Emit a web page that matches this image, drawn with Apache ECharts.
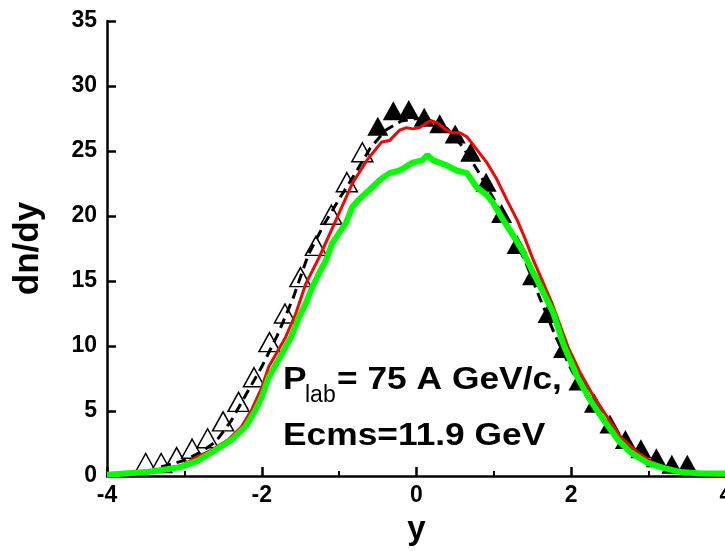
<!DOCTYPE html>
<html>
<head>
<meta charset="utf-8">
<script src="https://cdn.jsdelivr.net/npm/echarts@6/dist/echarts.min.js"></script>
<style>
html,body{margin:0;padding:0;background:#fff;}
#chart{width:725px;height:551px;}
</style>
</head>
<body>
<div id="chart"></div>
<script>
// Open triangles (reflected data)
var openX = [-3.5,-3.3,-3.1,-2.9,-2.7,-2.5,-2.3,-2.1,-1.9,-1.7,-1.5,-1.3,-1.1,-0.9,-0.7];
var openY = [1.0,1.0,1.45,2.1,2.9,4.2,5.7,7.6,10.3,12.5,15.3,17.7,20.1,22.6,24.9];
// Filled triangles (measured data)
var filledX = [-0.5,-0.3,-0.1,0.1,0.3,0.5,0.7,0.9,1.1,1.3,1.5,1.7,1.9,2.1,2.3,2.5,2.7,2.9,3.1,3.3,3.5];
var filledY = [26.9,28.1,28.2,27.6,27.1,26.3,24.9,22.6,20.2,17.8,15.4,12.5,9.8,7.3,5.6,4.0,2.8,2.1,1.4,0.9,0.9];
// Black dashed curve
var dashX = [-3.3,-3.0,-2.8,-2.6,-2.4,-2.2,-2.0,-1.8,-1.6,-1.4,-1.2,-1.0,-0.8,-0.6,-0.4,-0.2,0,0.2,0.4,0.6,0.8,1.0,1.2,1.4,1.6,1.8,2.0,2.2,2.4,2.6,2.8,3.0,3.3];
var dashY = [0.7,1.2,1.8,2.6,4.2,6.3,8.4,10.8,13.6,17.0,19.3,21.3,23.2,25.2,26.6,27.3,27.5,27.3,26.7,25.3,23.4,21.3,19.0,16.6,13.6,10.7,8.2,6.1,4.3,2.9,1.9,1.2,0.7];
// Red curve
var redX = [-4.0,-3.5,-3.2,-3.0,-2.86,-2.65,-2.43,-2.26,-2.13,-2.0,-1.91,-1.69,-1.56,-1.43,-1.26,-1.04,-0.83,-0.64,-0.45,-0.35,-0.22,-0.13,-0.05,0.04,0.17,0.26,0.39,0.47,0.56,0.65,0.78,0.91,1.04,1.17,1.3,1.4,1.51,1.62,1.75,1.88,1.96,2.12,2.29,2.47,2.64,2.86,3.06,3.29,3.5,4.0];
var redY = [0.0,0.2,0.5,0.9,1.4,2.0,2.8,3.8,5.1,6.8,8.4,10.7,12.5,14.8,16.8,19.7,22.5,24.3,25.7,25.8,26.6,26.8,26.7,26.8,27.3,27.2,26.6,26.4,26.4,26.1,25.1,24.1,22.8,21.2,19.7,18.3,16.6,15.1,13.3,11.2,9.9,7.9,6.1,4.5,3.0,1.8,1.0,0.5,0.2,0.0];
// Green curve
var greenX = [-4.0,-3.77,-3.5,-3.25,-3.04,-2.82,-2.6,-2.39,-2.21,-2.08,-2.0,-1.91,-1.62,-1.52,-1.43,-1.35,-1.26,-1.17,-1.09,-1.0,-0.91,-0.83,-0.74,-0.61,-0.47,-0.35,-0.22,-0.05,0.08,0.14,0.21,0.39,0.52,0.65,0.78,0.91,0.99,1.12,1.25,1.38,1.51,1.64,1.77,1.9,2.08,2.25,2.42,2.6,2.77,2.99,3.2,3.42,3.68,4.0];
var greenY = [0.1,0.2,0.3,0.5,0.7,1.2,2.0,2.8,3.8,5.1,6.1,7.6,10.7,12.2,13.3,14.5,15.6,16.6,17.9,18.7,19.5,20.7,21.3,22.0,22.8,23.3,23.5,24.1,24.3,24.7,24.3,23.9,23.5,23.3,22.2,21.6,21.0,19.7,18.5,17.2,15.6,14.1,12.5,10.1,7.6,5.8,4.3,2.8,1.8,1.0,0.6,0.3,0.2,0.2];
// Axes
var xMin = -4, xMax = 4, xStep = 2;
var yMin = 0, yMax = 35, yStep = 5;
var xName = 'y', yName = 'dn/dy';
var line1a = 'P', line1sub = 'lab', line1b = '= 75 A GeV/c,';
var line2 = 'Ecms=11.9 GeV';

function pairs(xs, ys){ return xs.map(function(x,i){ return [x, ys[i]]; }); }

var FONT = '"Liberation Sans", Arial, sans-serif';
var chart = echarts.init(document.getElementById('chart'), null, {renderer:'canvas'});
chart.setOption({
  animation: false,
  backgroundColor: '#ffffff',
  grid: {left: 107, top: 21, width: 619, height: 455, containLabel: false, outerBoundsMode: 'none'},
  xAxis: {
    type: 'value', min: xMin, max: xMax, interval: xStep,
    name: xName, nameLocation: 'middle', nameGap: 37,
    nameTextStyle: {fontFamily: FONT, fontWeight: 'bold', fontSize: 33, color: '#000'},
    axisLine: {show: true, onZero: false, lineStyle: {color: '#000', width: 2.5}},
    axisTick: {show: true, inside: true, length: 9, lineStyle: {color: '#000', width: 2.5}},
    minorTick: {show: true, splitNumber: 2, length: 5, lineStyle: {color: '#000', width: 2}},
    splitLine: {show: false},
    axisLabel: {fontFamily: FONT, fontWeight: 'bold', fontSize: 23, color: '#000', margin: 8, hideOverlap: false}
  },
  yAxis: {
    type: 'value', min: yMin, max: yMax, interval: yStep,
    name: yName, nameLocation: 'middle', nameGap: 61, nameRotate: 90,
    nameTextStyle: {fontFamily: FONT, fontWeight: 'bold', fontSize: 35, color: '#000'},
    axisLine: {show: true, onZero: false, lineStyle: {color: '#000', width: 2.5}},
    axisTick: {show: true, inside: true, length: 9, lineStyle: {color: '#000', width: 2.5}},
    splitLine: {show: false},
    axisLabel: {fontFamily: FONT, fontWeight: 'bold', fontSize: 23, color: '#000', margin: 10}
  },
  series: [
    {type: 'scatter', data: pairs(openX, openY), symbol: 'triangle', symbolSize: [21, 19],
     itemStyle: {color: '#fff', borderColor: '#000', borderWidth: 1.5, opacity: 1}, z: 2},
    {type: 'scatter', data: pairs(filledX, filledY), symbol: 'triangle', symbolSize: [21, 19],
     itemStyle: {color: '#000', borderColor: '#000', borderWidth: 0, opacity: 1}, z: 2},
    {type: 'line', data: pairs(dashX, dashY), showSymbol: false, symbol: 'none',
     lineStyle: {color: '#000', width: 3, type: [10, 6]}, z: 3},
    {type: 'line', data: pairs(redX, redY), showSymbol: false, symbol: 'none',
     lineStyle: {color: '#ff0000', width: 3}, z: 4},
    {type: 'line', data: pairs(greenX, greenY), showSymbol: false, symbol: 'none',
     lineStyle: {color: '#00ff00', width: 6}, z: 5}
  ],
  graphic: [
    {type: 'text', x: 283, y: 380, scaleX: 1.14, z: 10,
     style: {text: line1a, font: 'bold 31px ' + FONT, fill: '#000', verticalAlign: 'middle', align: 'left'}},
    {type: 'text', x: 305, y: 396, z: 10,
     style: {text: line1sub, font: '23px ' + FONT, fill: '#000', verticalAlign: 'middle', align: 'left'}},
    {type: 'text', x: 337, y: 380, scaleX: 1.14, z: 10,
     style: {text: line1b, font: 'bold 31px ' + FONT, fill: '#000', verticalAlign: 'middle', align: 'left'}},
    {type: 'text', x: 283, y: 436, scaleX: 1.14, z: 10,
     style: {text: line2, font: 'bold 31px ' + FONT, fill: '#000', verticalAlign: 'middle', align: 'left'}}
  ]
});
</script>
</body>
</html>
